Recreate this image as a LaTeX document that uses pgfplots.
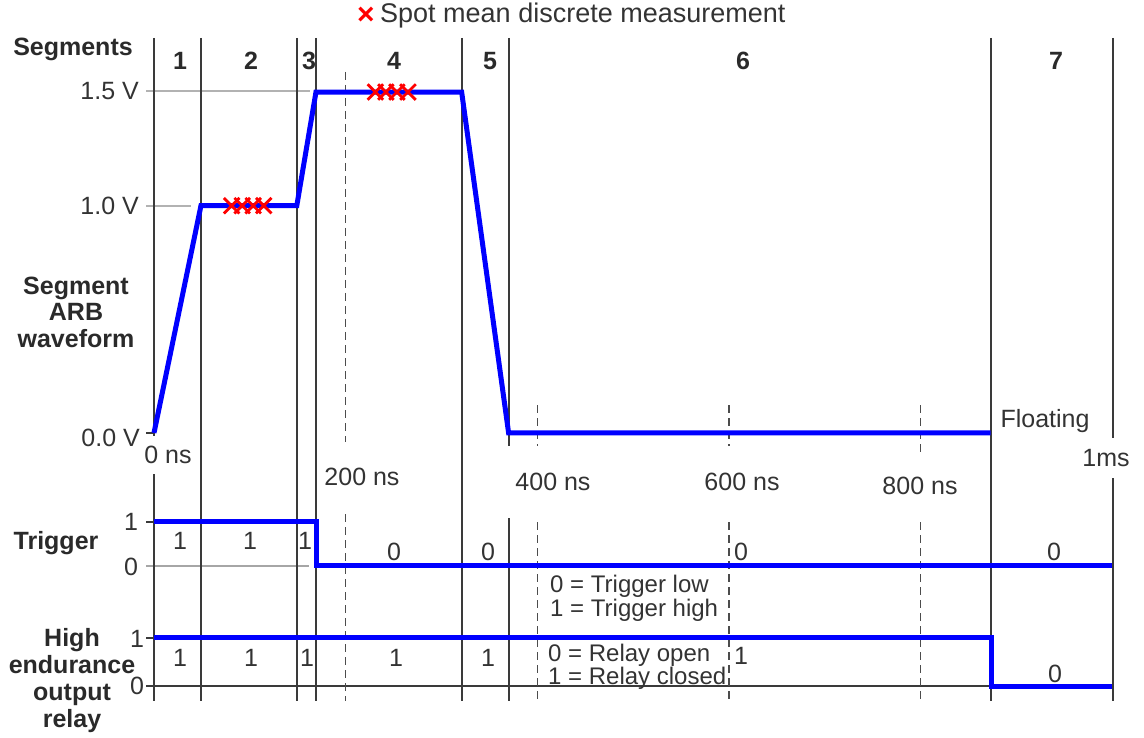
\documentclass[border=0pt]{standalone}
\usepackage{fontspec}
\setmainfont{Liberation Sans}
\usepackage{pgfplots}
\pgfplotsset{compat=1.18}
\definecolor{txt}{HTML}{333333}
\definecolor{bld}{HTML}{2A2A2A}
\definecolor{seg}{HTML}{3A3A3A}
\definecolor{wave}{HTML}{0000FF}
\definecolor{meas}{HTML}{FF0000}
\pgfplotsset{
  base/.style={at={(0,0)}, anchor=south west, scale only axis, width=1144pt, height=738pt,
    hide axis, clip=false},
  dataax/.style={base, xmin=-160.67, xmax=1032.93},
}
\tikzset{
  t/.style={font=\fontsize{25}{27}\selectfont, text=txt, inner sep=1pt},
  tl/.style={font=\fontsize{24}{26}\selectfont, text=txt, inner sep=1pt},
  b/.style={font=\fontsize{25}{27}\selectfont\bfseries, text=bld, inner sep=1pt, align=center},
  lab/.style={t, fill=white, inner xsep=4pt},
  segl/.style={draw=seg, line width=1.4pt},
  tgrid/.style={draw=black!70, line width=1.3pt, dash pattern=on 8pt off 5pt},
}
\begin{document}
\begin{tikzpicture}
\useasboundingbox (0,0) rectangle (1144pt,738pt);
% ---------- layout layer (pixel coordinates) ----------
\begin{axis}[base, xmin=0, xmax=1144, ymin=0, ymax=738, y dir=reverse]
% grid / reference lines
\draw[gray!60, line width=1.2pt] (axis cs:146,91) -- (axis cs:310,91);
\draw[gray!60, line width=1.2pt] (axis cs:146,206) -- (axis cs:191,206);
\draw[gray!70, line width=1.2pt] (axis cs:146,566) -- (axis cs:309,566);
\draw[seg, line width=1.4pt] (axis cs:146,433) -- (axis cs:154,433);
\draw[seg, line width=1.4pt] (axis cs:146,522) -- (axis cs:154,522);
\draw[seg, line width=1.4pt] (axis cs:146,638) -- (axis cs:154,638);
\draw[seg, line width=1.4pt] (axis cs:146,686) -- (axis cs:1113,686);
% dashed time grid (200, 400, 600, 800 ns)
\draw[tgrid] (axis cs:345.7,72) -- (axis cs:345.7,701);
\draw[tgrid] (axis cs:537.4,405) -- (axis cs:537.4,701);
\draw[tgrid] (axis cs:729.1,405) -- (axis cs:729.1,701);
\draw[tgrid] (axis cs:920.8,405) -- (axis cs:920.8,701);
% segment boundaries
\foreach \xx in {154,201,297,316,462,509,991,1113}{
  \edef\tmp{\noexpand\draw[segl] (axis cs:\xx,38) -- (axis cs:\xx,701);}\tmp
}
% time labels with white boxes
\node[lab, minimum height=38pt] at (axis cs:168,455) {0 ns};
\node[lab, minimum height=70pt, inner xsep=6pt] at (axis cs:362,477) {200 ns};
\node[lab, minimum height=72pt, inner xsep=8pt] at (axis cs:553,482) {400 ns};
\node[lab, minimum height=72pt, inner xsep=8pt] at (axis cs:742,482) {600 ns};
\node[lab, minimum height=64pt, inner xsep=8pt] at (axis cs:920,486) {800 ns};
\node[lab, minimum height=40pt] at (axis cs:1106,458) {1ms};
\node[t] at (axis cs:1045,421) {Floating};
% title / legend
\node[font=\fontsize{30}{32}\selectfont\bfseries, text=meas, inner sep=0pt] at (axis cs:366,16) {×};
\node[t, font=\fontsize{27}{29}\selectfont, anchor=west] at (axis cs:379,16) {Spot mean discrete measurement};
% left labels
\node[b] at (axis cs:73,49) {Segments};
\node[b, font=\fontsize{25}{26.5}\selectfont\bfseries] at (axis cs:76,312) {Segment\\ARB\\waveform};
\node[b] at (axis cs:56,543) {Trigger};
\node[b, font=\fontsize{25}{27}\selectfont\bfseries] at (axis cs:72,681) {High\\endurance\\output\\relay};
\node[t, anchor=east] at (axis cs:140,91) {1.5 V};
\node[t, anchor=east] at (axis cs:140,206) {1.0 V};
\node[t, anchor=east] at (axis cs:141,438) {0.0 V};
\node[t] at (axis cs:131,522) {1};
\node[t] at (axis cs:131,567) {0};
\node[t] at (axis cs:137,639) {1};
\node[t] at (axis cs:137,686) {0};
% segment numbers
\foreach \xx/\nn in {180/1,251/2,309/3,394/4,490/5,743/6,1056/7}{
  \edef\tmp{\noexpand\node[b] at (axis cs:\xx,61) {\nn};}\tmp
}
% trigger state labels
\foreach \xx/\yy/\nn in {180/541/1,250/541/1,305/541/1,394/552/0,488/552/0,741/552/0,1054/552/0}{
  \edef\tmp{\noexpand\node[t] at (axis cs:\xx,\yy) {\nn};}\tmp
}
\node[tl, anchor=west] at (axis cs:549,586) {0 = Trigger low};
\node[tl, anchor=west] at (axis cs:549,610) {1 = Trigger high};
% relay state labels
\foreach \xx/\yy/\nn in {180/658/1,251/658/1,307/658/1,396/658/1,488/658/1,741/656/1,1055/674/0}{
  \edef\tmp{\noexpand\node[t] at (axis cs:\xx,\yy) {\nn};}\tmp
}
\node[tl, anchor=west] at (axis cs:547,655) {0 = Relay open};
\node[tl, anchor=west] at (axis cs:547,678) {1 = Relay closed};
\end{axis}
% ---------- segment ARB waveform (ns, V) ----------
\begin{axis}[dataax, ymin=-1.342, ymax=1.905]
\addplot[wave, line width=5pt, line join=miter] coordinates {
  (0,0) (49,1.0) (149,1.0) (169,1.5) (321,1.5) (370,0) (873,0)};
\addplot[only marks, mark=x, mark size=11pt, mark options={line width=2.8pt}, color=meas]
  coordinates {(81,1.0) (92,1.0) (103.5,1.0) (114.5,1.0)
               (231,1.5) (242,1.5) (253.5,1.5) (265,1.5)};
\end{axis}
% ---------- trigger ----------
\begin{axis}[dataax, ymin=-3.909, ymax=12.864]
\addplot[wave, line width=5pt, line join=miter] coordinates {
  (0,1) (170,1) (170,0) (1000,0)};
\end{axis}
% ---------- high endurance output relay ----------
\begin{axis}[dataax, ymin=-1.041, ymax=14.02]
\addplot[wave, line width=5pt, line join=miter] coordinates {
  (0,1) (874,1) (874,0) (1000,0)};
\end{axis}
\end{tikzpicture}
\end{document}
